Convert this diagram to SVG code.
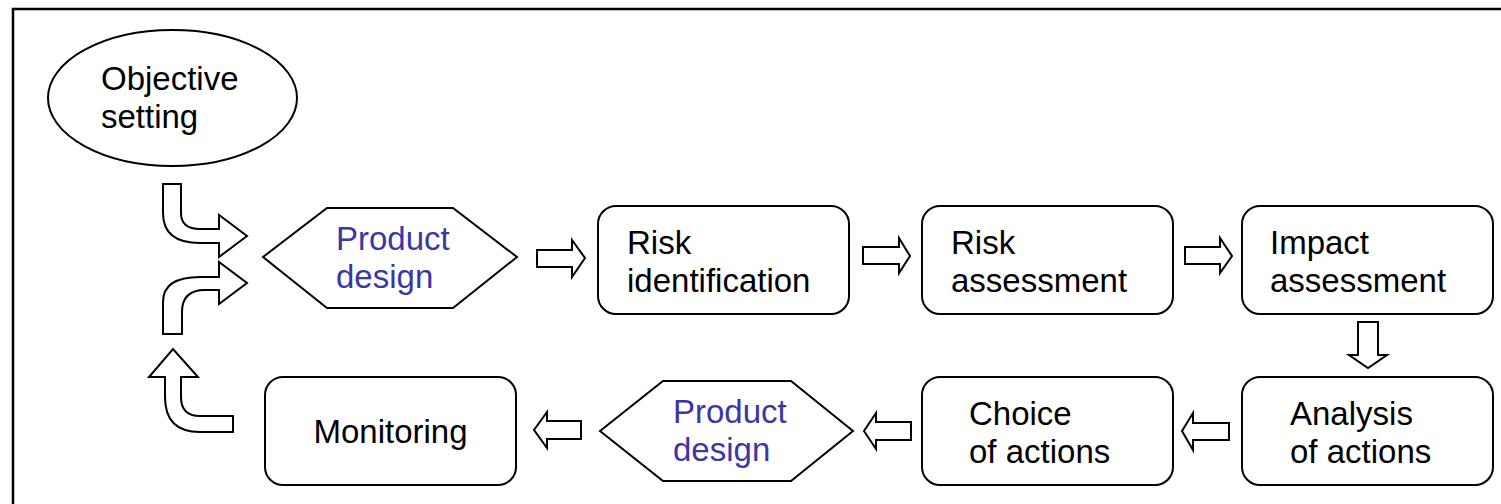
<svg xmlns="http://www.w3.org/2000/svg" width="1501" height="504" viewBox="0 0 1501 504">
<style>
.box{fill:#fff;stroke:#000;stroke-width:2}
.arr{fill:#fff;stroke:#000;stroke-width:2;stroke-linejoin:miter}
.t{font-family:"Liberation Sans",Arial,sans-serif;font-size:33px;fill:#000}
.p{font-family:"Liberation Sans",Arial,sans-serif;font-size:33px;fill:#3b35a8}
</style>
<rect width="1501" height="504" fill="#fff"/>
<path d="M13,504 L13,9 L1501,9" fill="none" stroke="#000" stroke-width="2.5"/>
<g id="objective">
<ellipse class="box" cx="172.5" cy="98" rx="124.5" ry="68"/>
<text class="t" x="101" y="90">Objective</text>
<text class="t" x="101" y="128">setting</text>
</g>
<g id="product1">
<polygon class="box" points="263,257 327,208 453,208 517,257 453,308 327,308"/>
<text class="p" x="336" y="250">Product</text>
<text class="p" x="336" y="288">design</text>
</g>
<g id="riskid">
<rect class="box" x="598" y="206" width="251" height="108" rx="18"/>
<text class="t" x="627" y="254">Risk</text>
<text class="t" x="627" y="292">identification</text>
</g>
<g id="riskas">
<rect class="box" x="922" y="206" width="251" height="108" rx="18"/>
<text class="t" x="951" y="254">Risk</text>
<text class="t" x="951" y="292">assessment</text>
</g>
<g id="impact">
<rect class="box" x="1242" y="206" width="251" height="108" rx="18"/>
<text class="t" x="1270" y="254">Impact</text>
<text class="t" x="1270" y="292">assessment</text>
</g>
<g id="analysis">
<rect class="box" x="1242" y="377" width="251" height="108" rx="18"/>
<text class="t" x="1290" y="425">Analysis</text>
<text class="t" x="1290" y="463">of actions</text>
</g>
<g id="choice">
<rect class="box" x="922" y="377" width="251" height="108" rx="18"/>
<text class="t" x="969" y="425">Choice</text>
<text class="t" x="969" y="463">of actions</text>
</g>
<g id="product2">
<polygon class="box" points="600,431 663,381 791,381 853,431 791,481 663,481"/>
<text class="p" x="673" y="423">Product</text>
<text class="p" x="673" y="461">design</text>
</g>
<g id="monitoring">
<rect class="box" x="265" y="377" width="251" height="108" rx="18"/>
<text class="t" x="390.5" y="443" text-anchor="middle">Monitoring</text>
</g>
<g id="connectors">
<path class="arr" d="M163,184 L181,184 L181,213 Q181,229 200,229 L219,229 L219,215 L247,236 L219,257 L219,243 L200,243 Q163,243 163,213 Z"/>
<path class="arr" d="M163,334 L163,302 Q163,277 200,277 L219,277 L219,262 L247,283 L219,304 L219,290 L205,290 Q182,290 182,312 L182,334 Z"/>
<path class="arr" d="M233,416 L233,432 L200,432 Q165,432 165,397 L165,377 L149,377 L173,349 L198,377 L181,377 L181,397 Q181,416 200,416 Z"/>
<polygon class="arr" points="537,250 572,250 572,240 585,258 572,277 572,267 537,267"/>
<polygon class="arr" points="863,247 899,247 899,238 910,256 899,273 899,264 863,264"/>
<polygon class="arr" points="1185,247 1220,247 1220,238 1232,256 1220,273 1220,264 1185,264"/>
<polygon class="arr" points="1358,322 1378,322 1378,355 1387,355 1368,368 1349,355 1358,355"/>
<polygon class="arr" points="1229,423 1193,423 1193,413 1182,431 1193,450 1193,440 1229,440"/>
<polygon class="arr" points="911,422 876,422 876,413 864,431 876,449 876,440 911,440"/>
<polygon class="arr" points="581,421 547,421 547,412 534,430 547,448 547,439 581,439"/>
</g>
</svg>
